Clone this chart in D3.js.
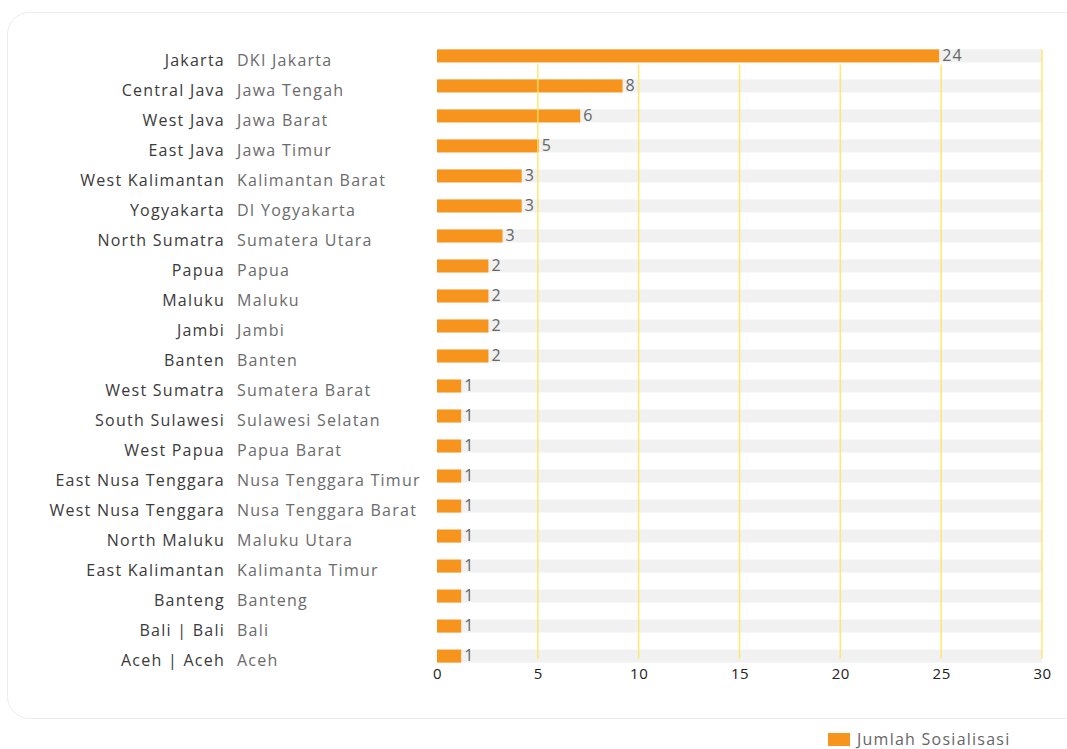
<!DOCTYPE html>
<html>
<head>
<meta charset="utf-8">
<script src="https://cdn.jsdelivr.net/npm/d3@7"></script>
<style>
    html, body { margin: 0; padding: 0; background: #fff; }
    svg { display: block; font-family: "Open Sans", sans-serif; }
</style>
</head>
<body>
<svg id="chart" width="1067" height="749"></svg>
<script>
const provincesEn = ["Jakarta", "Central Java", "West Java", "East Java", "West Kalimantan", "Yogyakarta",
    "North Sumatra", "Papua", "Maluku", "Jambi", "Banten", "West Sumatra", "South Sulawesi", "West Papua",
    "East Nusa Tenggara", "West Nusa Tenggara", "North Maluku", "East Kalimantan", "Banteng", "Bali | Bali", "Aceh | Aceh"];
const provincesId = ["DKI Jakarta", "Jawa Tengah", "Jawa Barat", "Jawa Timur", "Kalimantan Barat", "DI Yogyakarta",
    "Sumatera Utara", "Papua", "Maluku", "Jambi", "Banten", "Sumatera Barat", "Sulawesi Selatan", "Papua Barat",
    "Nusa Tenggara Timur", "Nusa Tenggara Barat", "Maluku Utara", "Kalimanta Timur", "Banteng", "Bali", "Aceh"];
// printed counts
const counts = [24, 8, 6, 5, 3, 3, 3, 2, 2, 2, 2, 1, 1, 1, 1, 1, 1, 1, 1, 1, 1];
// bar lengths as drawn (they run a bit past the printed counts)
const barLengths = [24.9, 9.2, 7.1, 5.05, 4.2, 4.2, 3.25, 2.55, 2.55, 2.55, 2.55, 1.2, 1.2, 1.2, 1.2, 1.2, 1.2, 1.2, 1.2, 1.2, 1.2];
const xTicks = [0, 5, 10, 15, 20, 25, 30];
const seriesName = "Jumlah Sosialisasi";

const orange = "#f7941d",
    track = "#f0f1f0",
    grid = "#ffe45c";
const spacing = "1.25px";

let svg = d3.select("#chart");

// card background
svg.append("rect")
    .attr("x", 7.5).attr("y", 12.5)
    .attr("width", 1080).attr("height", 706)
    .attr("rx", 22)
    .attr("fill", "#fff")
    .attr("stroke", "#ececec");

let x = d3.scaleLinear()
    .domain([0, 30])
    .range([437, 1042]);
let y = d3.scaleBand()
    .domain(provincesEn)
    .range([41, 671])
    .paddingInner(0.5667)
    .paddingOuter(0.28);

const barH = y.bandwidth();
const rows = provincesEn.map((name, i) => ({name, id: provincesId[i], count: counts[i], len: barLengths[i]}));

// gray tracks
svg.append("g").selectAll("rect")
    .data(rows)
    .join("rect")
    .attr("x", x(0))
    .attr("y", d => y(d.name))
    .attr("width", x(30) - x(0))
    .attr("height", barH)
    .attr("fill", track);

// orange bars
svg.append("g").selectAll("rect")
    .data(rows)
    .join("rect")
    .attr("x", x(0))
    .attr("y", d => y(d.name))
    .attr("width", d => x(d.len) - x(0))
    .attr("height", barH)
    .attr("fill", orange);

// vertical gridlines, drawn over the bars
svg.append("g").selectAll("line")
    .data(xTicks.slice(1))
    .join("line")
    .attr("x1", d => x(d)).attr("x2", d => x(d))
    .attr("y1", d => d === 30 ? y(provincesEn[0]) : y(provincesEn[1]) - 15)
    .attr("y2", y(provincesEn[provincesEn.length - 1]) + barH - 4)
    .attr("stroke", grid)
    .attr("stroke-opacity", 0.85)
    .attr("stroke-width", 1.5);

// value labels
svg.append("g").selectAll("text")
    .data(rows)
    .join("text")
    .attr("x", d => x(d.len) + 3)
    .attr("y", d => y(d.name) + barH / 2 + 5)
    .attr("fill", "#666")
    .attr("font-size", 16)
    .attr("letter-spacing", spacing)
    .text(d => d.count);

// English names
svg.append("g").selectAll("text")
    .data(rows)
    .join("text")
    .attr("x", 225)
    .attr("y", d => y(d.name) + barH / 2 + 10)
    .attr("text-anchor", "end")
    .attr("fill", "#3a3a3a")
    .attr("font-size", 16)
    .attr("letter-spacing", spacing)
    .text(d => d.name);

// Indonesian names
svg.append("g").selectAll("text")
    .data(rows)
    .join("text")
    .attr("x", 237)
    .attr("y", d => y(d.name) + barH / 2 + 10)
    .attr("fill", "#6b6b6b")
    .attr("font-size", 16)
    .attr("letter-spacing", spacing)
    .text(d => d.id);

// x axis
let xAxis = svg.append("g")
    .attr("transform", `translate(0,${y(provincesEn[provincesEn.length - 1]) + barH})`)
    .call(d3.axisBottom(x).tickValues(xTicks).tickSize(0).tickPadding(6));
xAxis.select(".domain").remove();
xAxis.selectAll("text")
    .attr("font-family", "\"Open Sans\", sans-serif")
    .attr("font-size", 15)
    .attr("letter-spacing", "0.5px")
    .attr("fill", "#222");

// legend
let legend = svg.append("g").attr("transform", "translate(828,733)");
legend.append("rect")
    .attr("width", 22).attr("height", 13)
    .attr("fill", orange);
legend.append("text")
    .attr("x", 29).attr("y", 12)
    .attr("fill", "#666")
    .attr("font-size", 16)
    .attr("letter-spacing", spacing)
    .text(seriesName);
</script>
</body>
</html>
